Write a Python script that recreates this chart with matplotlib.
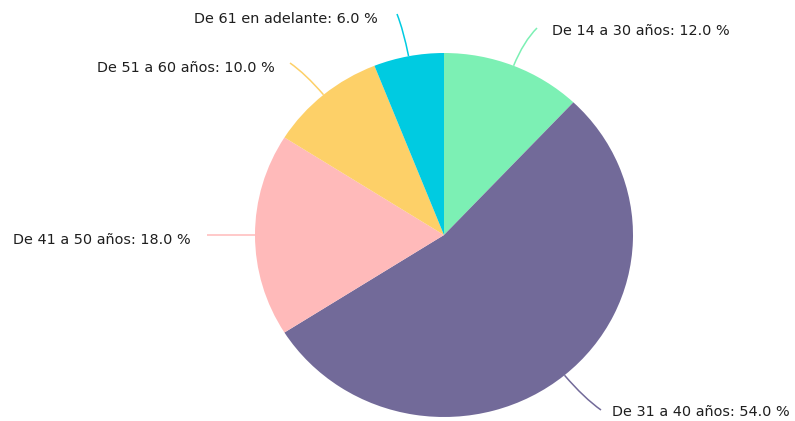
import numpy as np
import matplotlib
matplotlib.use("Agg")
import matplotlib.pyplot as plt
from matplotlib.path import Path
from matplotlib.patches import PathPatch

labels = ["De 14 a 30 años", "De 31 a 40 años", "De 41 a 50 años",
          "De 51 a 60 años", "De 61 en adelante"]
values = [12.0, 54.0, 18.0, 10.0, 6.0]
colors = ["#7cf0b4", "#726a99", "#ffbaba", "#fdd068", "#00cbe1"]

# label anchor (x, centre y, alignment) and leader end point, in pixels
label_pos = [(552, 31, "left"), (612, 412, "left"), (191, 240, "right"),
             (275, 68, "right"), (378, 19, "right")]
leader_end = [(537, 28), (601, 410), (207, 235), (290, 63), (397, 14)]

W, H = 795, 421
cx, cy = 444, 235
rx, ry = 189, 182
sy = rx / ry  # squash the pie vertically a little


def to_data(px, py):
    return px, (H - py) * sy


fig = plt.figure(figsize=(W / 100, H / 100), dpi=100)
ax = fig.add_axes([0, 0, 1, 1])
center = to_data(cx, cy)
wedges, _ = ax.pie(values, colors=colors, startangle=90, counterclock=False,
                   radius=rx, center=center,
                   wedgeprops=dict(linewidth=0, antialiased=True))
ax.set_aspect("auto")
ax.set_xlim(0, W)
ax.set_ylim(0, H * sy)
ax.axis("off")

total = sum(values)
start = 90.0
for i, v in enumerate(values):
    sweep = 360.0 * v / total
    mid = np.radians(start - sweep / 2)
    start -= sweep
    # leader line starts on the rim at the middle of the slice
    x0 = center[0] + rx * np.cos(mid)
    y0 = center[1] + rx * np.sin(mid)
    x2, y2 = to_data(*leader_end[i])
    # control point pushed outward along the radius for a gentle bend
    d = np.hypot(x2 - x0, y2 - y0) * 0.6
    x1 = x0 + d * np.cos(mid)
    y1 = y0 + d * np.sin(mid)
    path = Path([(x0, y0), (x1, y1), (x2, y2)],
                [Path.MOVETO, Path.CURVE3, Path.CURVE3])
    ax.add_patch(PathPatch(path, fill=False, edgecolor=colors[i], lw=1.1))
    lx, ly, ha = label_pos[i]
    lx, ly = to_data(lx, ly)
    ax.text(lx, ly, f"{labels[i]}: {v:.1f} %", ha=ha, va="center",
            fontsize=10.4, color="#1e1e1e", family="DejaVu Sans")

fig.savefig("out.png", dpi=100, facecolor="white")
